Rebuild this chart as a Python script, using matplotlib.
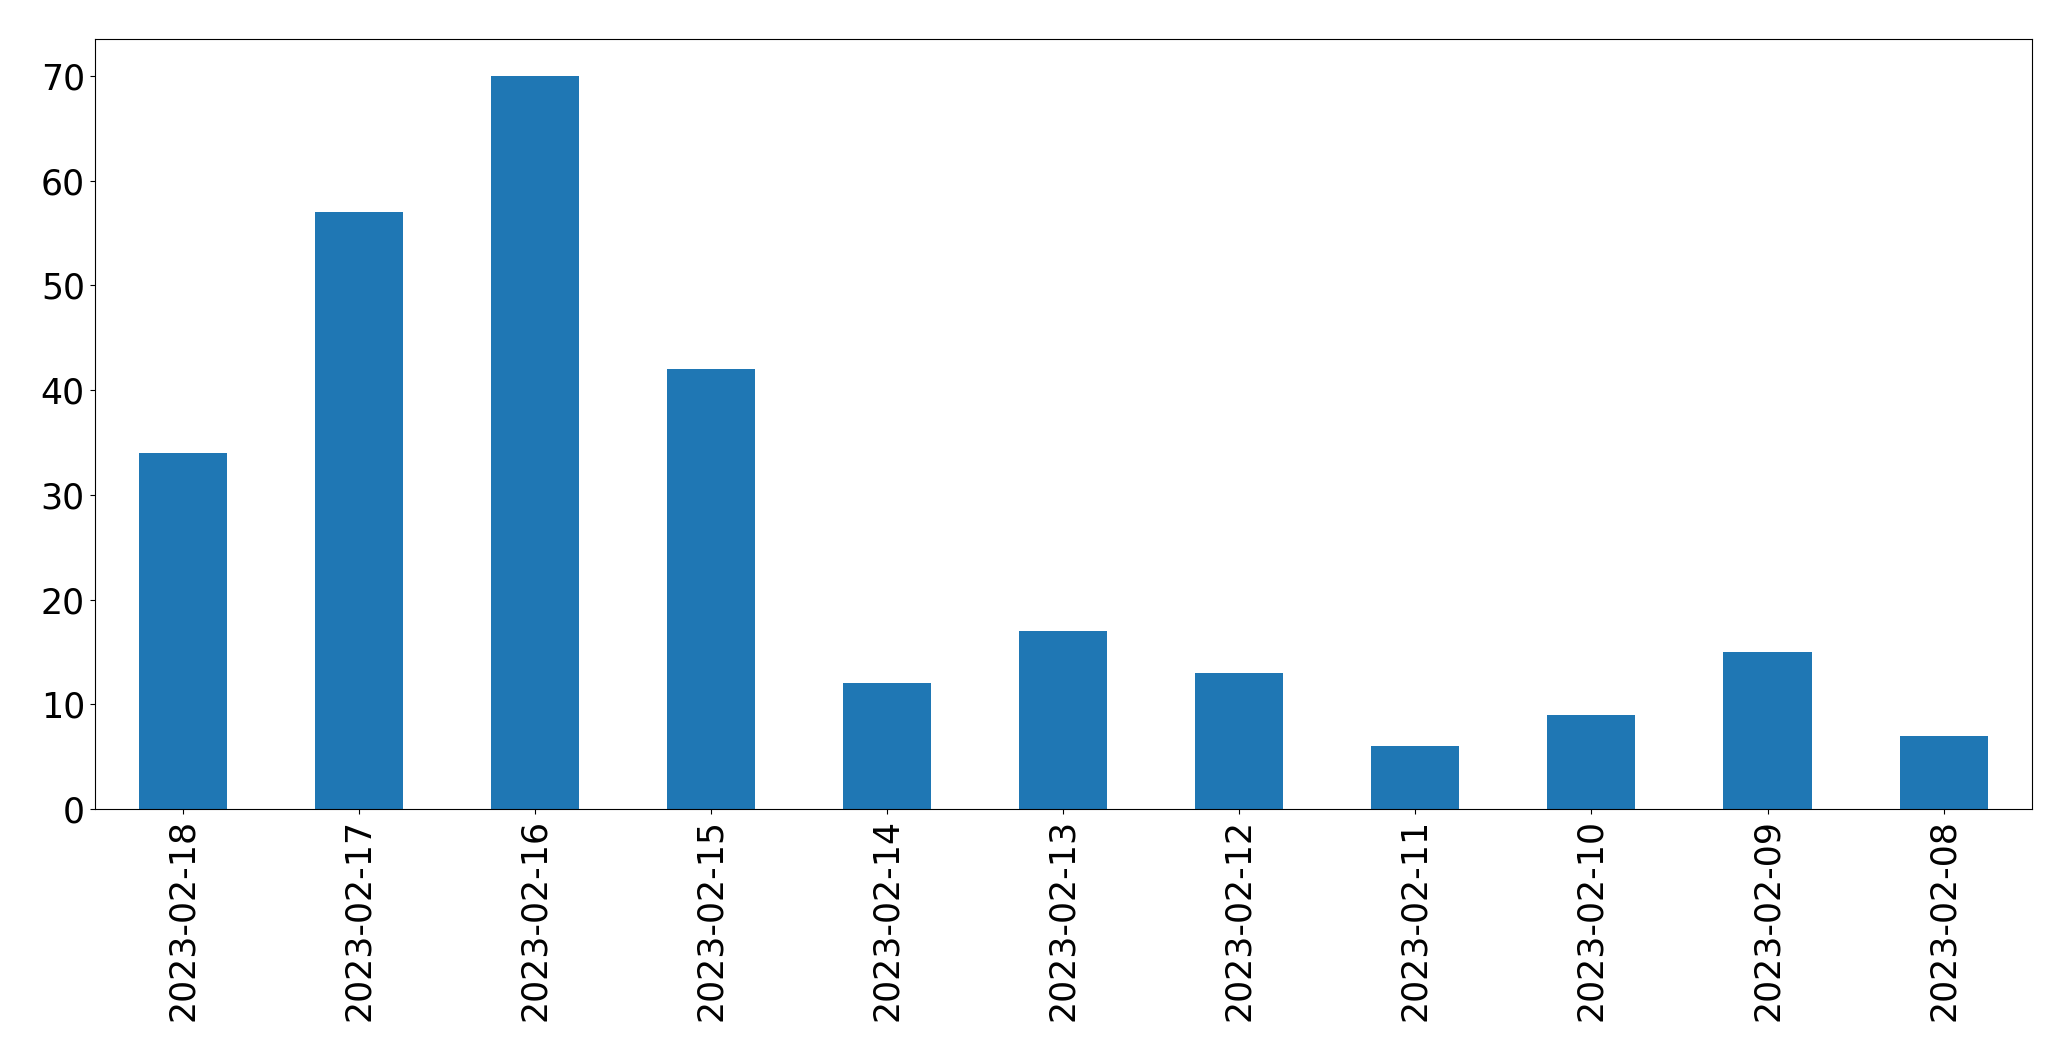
import pandas as pd
import matplotlib
matplotlib.use('Agg')
import matplotlib.pyplot as plt

# daily counts, newest first
dates  = ['2023-02-18', '2023-02-17', '2023-02-16', '2023-02-15', '2023-02-14',
          '2023-02-13', '2023-02-12', '2023-02-11', '2023-02-10', '2023-02-09',
          '2023-02-08']
counts = [34, 57, 70, 42, 12, 17, 13, 6, 9, 15, 7]

s = pd.Series(counts, index=dates)

fig, ax = plt.subplots(figsize=(20.71, 10.61), dpi=100)
fig.subplots_adjust(left=0.0457, right=0.981, bottom=0.2375, top=0.963)

s.plot(kind='bar', ax=ax, color='#1f77b4', fontsize=25)
ax.tick_params(axis='both', labelsize=25)

plt.savefig('out.png', dpi=100)
